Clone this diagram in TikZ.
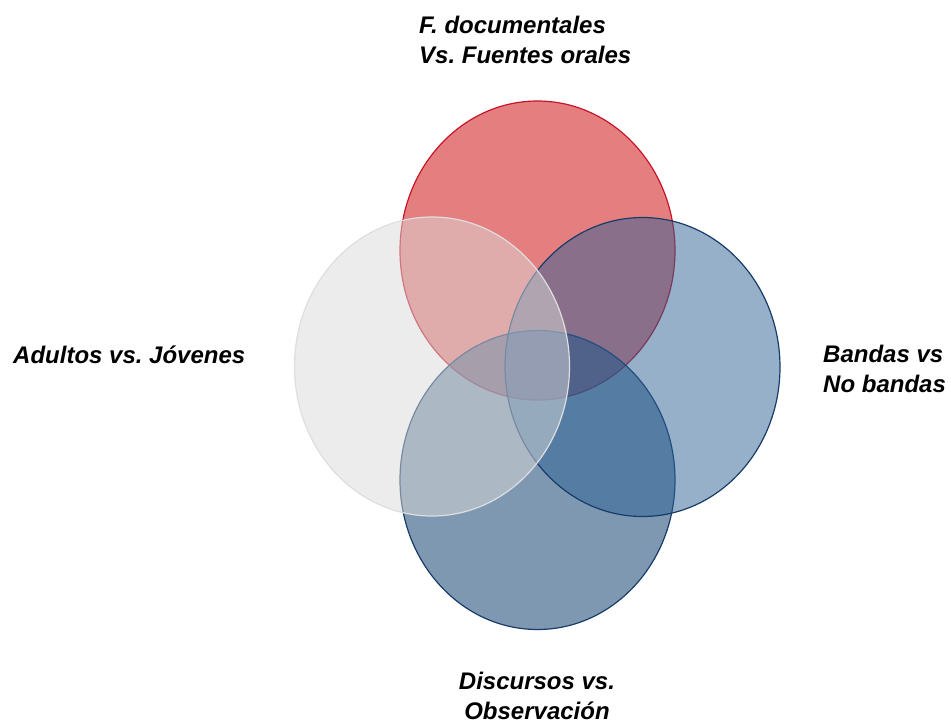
\documentclass[tikz,border=0pt]{standalone}
\usepackage{fontspec}
\setmainfont{Liberation Sans}
\usepackage{tikz}
\usetikzlibrary{shapes.geometric}
\frenchspacing

\definecolor{docred}{RGB}{204,0,0}
\definecolor{docedge}{RGB}{200,20,40}
\definecolor{bandblue}{RGB}{45,97,149}
\definecolor{talkblue}{RGB}{42,83,127}
\definecolor{navyedge}{RGB}{24,60,105}
\definecolor{agegray}{RGB}{217,217,217}
\definecolor{ageedge}{RGB}{222,222,222}

\begin{document}
\begin{tikzpicture}[x=1pt,y=-1pt]
	\useasboundingbox (0,0) rectangle (951,724);
	\begin{scope}[every node/.style = {ellipse, inner sep=0pt,
			minimum width=275pt, minimum height=299pt, line width=1.2pt}]
		\node[draw=docedge, fill=docred, fill opacity=0.5] (docs) at (537.5,250.5) {};
		\node[draw=navyedge, fill=talkblue, fill opacity=0.6] (talk) at (537.5,480) {};
		\node[draw=navyedge, fill=bandblue, fill opacity=0.5] (bands) at (642.5,367) {};
		\node[draw=ageedge, fill=agegray, fill opacity=0.5] (ages) at (432,366.5) {};
	\end{scope}
	\begin{scope}[every node/.style = {inner sep=0pt,
			font=\fontsize{24}{30}\selectfont\bfseries\itshape}]
		\node[anchor=base west, align=left] (docslabel) at (419,63) {F. documentales\\Vs. Fuentes orales};
		\node[anchor=base west] (ageslabel) at (13,363) {Adultos vs. Jóvenes};
		\node[anchor=base west, align=left] (bandslabel) at (823,392) {Bandas vs\\No bandas};
		\node[anchor=base, align=center] (talklabel) at (537,719) {Discursos vs.\\Observación};
	\end{scope}
\end{tikzpicture}
\end{document}
